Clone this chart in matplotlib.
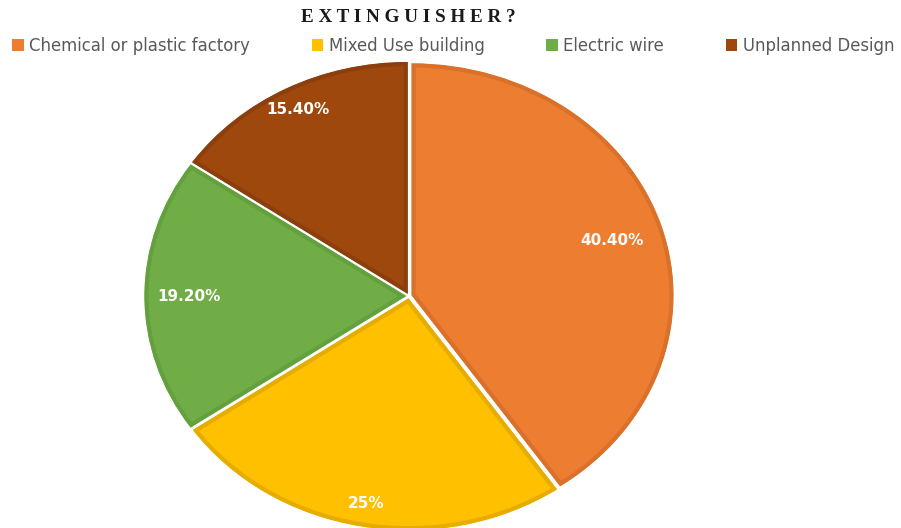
import matplotlib
matplotlib.use("Agg")
import matplotlib.pyplot as plt
import numpy as np
from matplotlib.patches import Patch

categories = ["Chemical or plastic factory", "Mixed Use building", "Electric wire", "Unplanned Design"]
shares = [40.4, 25.0, 19.2, 15.4]
pct_labels = ["40.40%", "25%", "19.20%", "15.40%"]

FILL = ["#ED7D31", "#FFC000", "#70AD47", "#9E480E"]
EDGE = ["#D9712B", "#E6AD00", "#64A03D", "#8C3F0C"]
LABEL_DIST = [0.80, 0.90, 0.83, 0.90]
TXT = "#595959"

W, H = 901, 528
fig = plt.figure(figsize=(W / 100, H / 100), dpi=100)
fig.patch.set_facecolor("white")

# pie is stretched a bit wider than tall, as in the source
cx, cy, rx, ry = 409, 296, 262, 232
pad = 1.1
ax = fig.add_axes([(cx - pad * rx) / W, (H - cy - pad * ry) / H, 2 * pad * rx / W, 2 * pad * ry / H])
wedges, _ = ax.pie(shares, colors=FILL, startangle=90, counterclock=False,
                   explode=[0.01] * 4, radius=1)
# darker border drawn only on the inside of each slice
for w, ec in zip(wedges, EDGE):
    w.set_edgecolor(ec)
    w.set_linewidth(6)
    w.set_clip_path(w)
    w.set_clip_on(True)
ax.set_aspect("auto")
ax.set_xlim(-pad, pad)
ax.set_ylim(-pad, pad)
ax.axis("off")

for w, lab, d in zip(wedges, pct_labels, LABEL_DIST):
    mid = np.deg2rad((w.theta1 + w.theta2) / 2)
    x0, y0 = w.center
    ax.text(x0 + d * np.cos(mid), y0 + d * np.sin(mid), lab, ha="center", va="center",
            color="white", fontsize=11, fontweight="bold", family="DejaVu Sans")

fig.text(0.453, 0.967, " ".join("EXTINGUISHER?"), ha="center", va="center",
         family=["Liberation Serif", "DejaVu Serif"], fontweight="bold", fontsize=13.8,
         color="#1a1a1a")

handles = [Patch(facecolor=c, edgecolor="none") for c in FILL]
fig.legend(handles, categories, ncol=4, loc="center left", bbox_to_anchor=(0.0045, 0.913),
           frameon=False, fontsize=11.9, labelcolor=TXT, handlelength=0.68,
           handleheight=0.68, handletextpad=0.33, columnspacing=3.75, borderaxespad=0.0,
           borderpad=0.5)

fig.savefig("out.png", dpi=100, facecolor="white")
